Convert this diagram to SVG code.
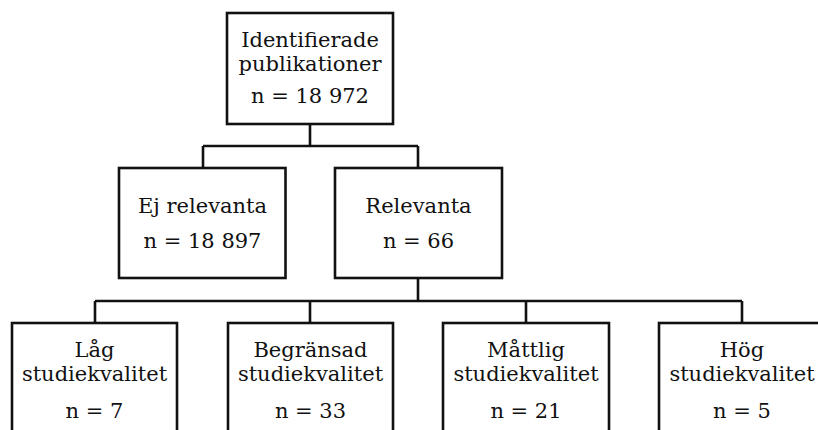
<svg xmlns="http://www.w3.org/2000/svg" width="818" height="430" viewBox="0 0 818 430">
<style>
.box{fill:#fff;stroke:#111;stroke-width:2.6}
.con{fill:none;stroke:#111;stroke-width:2.6}
text{font-family:"DejaVu Serif","Liberation Serif",serif;font-size:21px;fill:#111;text-anchor:middle}
</style>
<rect width="818" height="430" fill="#fff"/>
<g id="connectors">
<path class="con" d="M310 124V146M203 146H418M203 146V168M418 146V168"/>
<path class="con" d="M418 278V301M95 301H742M95 301V323M310 301V323M526 301V323M742 301V323"/>
</g>
<g id="n-identifierade">
<rect class="box" x="227" y="13" width="166" height="111"/>
<text x="310" y="46.5">Identifierade</text>
<text x="310" y="71">publikationer</text>
<text x="310" y="103">n = 18 972</text>
</g>
<g id="n-ej-relevanta">
<rect class="box" x="119" y="168" width="166.5" height="110"/>
<text x="202.5" y="213">Ej relevanta</text>
<text x="202.5" y="248">n = 18 897</text>
</g>
<g id="n-relevanta">
<rect class="box" x="335" y="168" width="167" height="110"/>
<text x="418.5" y="213">Relevanta</text>
<text x="418.5" y="248">n = 66</text>
</g>
<g id="n-lag">
<rect class="box" x="12" y="323" width="165" height="120"/>
<text x="94.5" y="357">Låg</text>
<text x="94.5" y="381">studiekvalitet</text>
<text x="94.5" y="418">n = 7</text>
</g>
<g id="n-begransad">
<rect class="box" x="228" y="323" width="165" height="120"/>
<text x="310.5" y="357">Begränsad</text>
<text x="310.5" y="381">studiekvalitet</text>
<text x="310.5" y="418">n = 33</text>
</g>
<g id="n-mattlig">
<rect class="box" x="443" y="323" width="166" height="120"/>
<text x="526" y="357">Måttlig</text>
<text x="526" y="381">studiekvalitet</text>
<text x="526" y="418">n = 21</text>
</g>
<g id="n-hog">
<rect class="box" x="659" y="323" width="166" height="120"/>
<text x="742" y="357">Hög</text>
<text x="742" y="381">studiekvalitet</text>
<text x="742" y="418">n = 5</text>
</g>
</svg>
